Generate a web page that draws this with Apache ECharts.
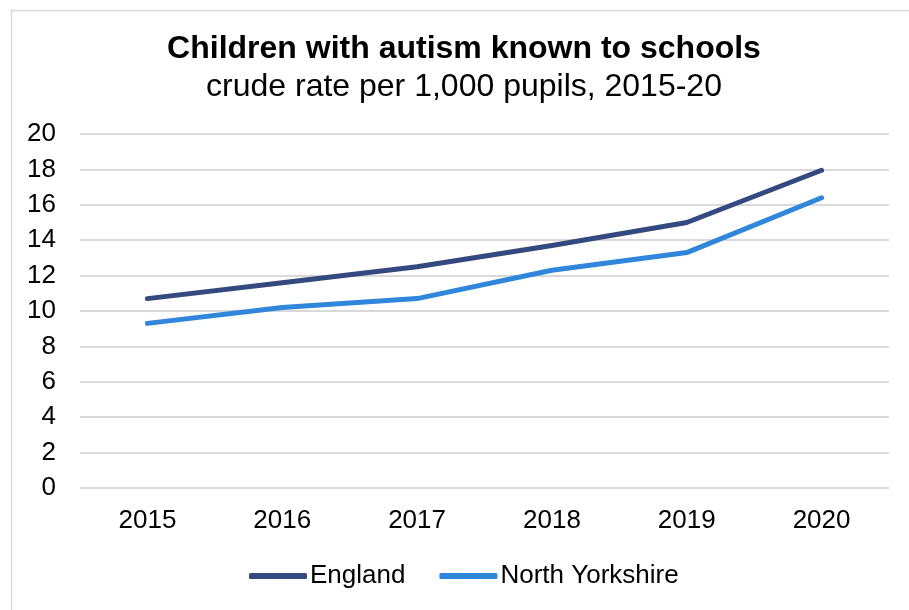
<!DOCTYPE html>
<html>
<head>
<meta charset="utf-8">
<script src="https://cdn.jsdelivr.net/npm/echarts@6/dist/echarts.min.js"></script>
<style>html,body{margin:0;padding:0;background:#fff;}#c{width:909px;height:610px;}</style>
</head>
<body>
<div id="c"></div>
<script>
const years = ['2015','2016','2017','2018','2019','2020'];
const england = [10.7, 11.6, 12.5, 13.7, 15.0, 17.95];
const northYorkshire = [9.3, 10.2, 10.7, 12.3, 13.3, 16.4];
const yTicks = {min: 0, max: 20, interval: 2};

const chart = echarts.init(document.getElementById('c'));
const font = 'Liberation Sans, Arial, sans-serif';
chart.setOption({
  animation: false,
  graphic: [{
    type: 'rect', left: 9, top: 8, silent: true,
    shape: {width: 1000, height: 1000},
    style: {fill: 'none', stroke: '#d9d9d9', lineWidth: 1.5}
  }],
  title: {
    text: 'Children with autism known to schools',
    subtext: 'crude rate per 1,000 pupils, 2015-20',
    left: 459, textAlign: 'center', top: 28, itemGap: 6,
    textStyle: {fontFamily: font, fontSize: 32, fontWeight: 'bold', color: '#000'},
    subtextStyle: {fontFamily: font, fontSize: 32, color: '#000'}
  },
  legend: {
    data: ['England', 'North Yorkshire'],
    left: 244, top: 558, itemWidth: 58, itemHeight: 6, itemGap: 34,
    icon: 'roundRect',
    textStyle: {fontFamily: font, fontSize: 26, color: '#000', padding: [0,0,0,-2]}
  },
  grid: {left: 80, right: 20, top: 134, bottom: 122},
  xAxis: {
    type: 'category', data: years, boundaryGap: true,
    axisLine: {show: false}, axisTick: {show: false},
    axisLabel: {fontFamily: font, fontSize: 26, color: '#000', margin: 20}
  },
  yAxis: {
    type: 'value', min: yTicks.min, max: yTicks.max, interval: yTicks.interval,
    axisLine: {show: false}, axisTick: {show: false},
    axisLabel: {fontFamily: font, fontSize: 26, color: '#000', margin: 24},
    splitLine: {lineStyle: {color: '#d9d9d9', width: 2}}
  },
  series: [
    {name: 'England', type: 'line', data: england, symbol: 'none',
     lineStyle: {color: '#34497f', width: 5, cap: 'round', join: 'round'}, itemStyle: {color: '#34497f'}},
    {name: 'North Yorkshire', type: 'line', data: northYorkshire, symbol: 'none',
     lineStyle: {color: '#2f86da', width: 5, cap: 'round', join: 'round'}, itemStyle: {color: '#2f86da'}}
  ]
});
</script>
</body>
</html>
